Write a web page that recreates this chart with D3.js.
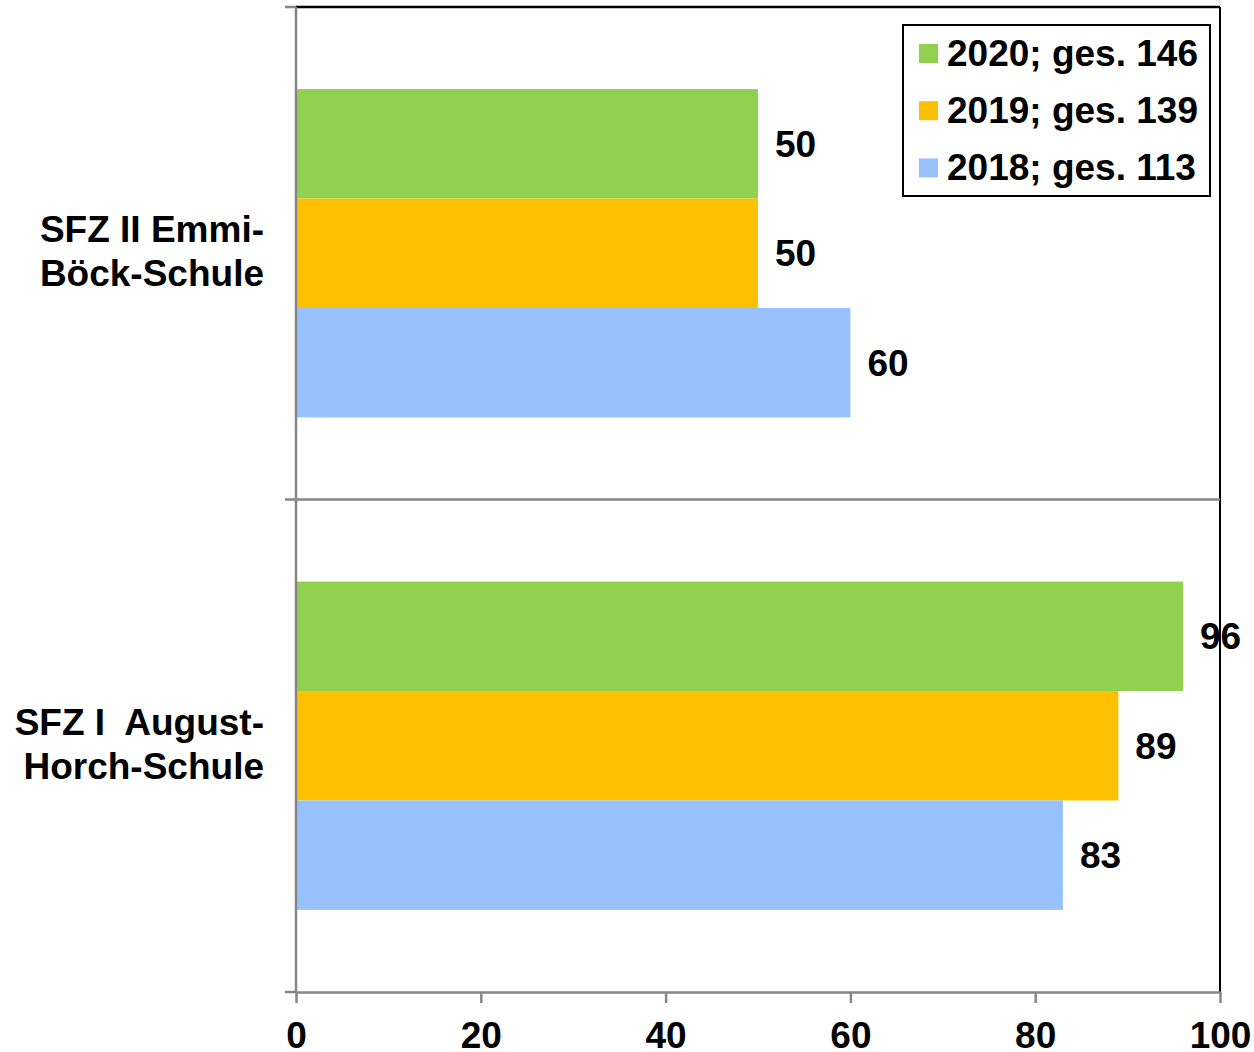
<!DOCTYPE html>
<html lang="de">
<head>
    <meta charset="UTF-8">
    <title>SFZ Schülerzahlen</title>
    <script src="https://d3js.org/d3.v7.min.js"></script>
    <style>
        body { margin: 0; background: #fff; }
        text { font-family: "Liberation Sans", Arial, sans-serif; font-weight: bold; fill: #000; white-space: pre; }
    </style>
</head>
<body>
    <div id="chart"></div>

    <script>
        // Data
        var categories = ["SFZ II Emmi-Böck-Schule", "SFZ I  August-Horch-Schule"];
        var categoryLines = [["SFZ II Emmi-", "Böck-Schule"], ["SFZ I  August-", "Horch-Schule"]];
        var seriesNames = ["2020; ges. 146", "2019; ges. 139", "2018; ges. 113"];
        var values2020 = [50, 96];
        var values2019 = [50, 89];
        var values2018 = [60, 83];
        var xTicks = [0, 20, 40, 60, 80, 100];

        var seriesValues = [values2020, values2019, values2018];
        var colors = ["#92D050", "#FFC000", "#97C2FF"];

        var width = 1254, height = 1052;
        var plotLeft = 296, plotRight = 1220, plotTop = 7, plotBottom = 992;

        var svg = d3.select("#chart")
            .append("svg")
            .attr("width", width)
            .attr("height", height);

        // scales
        var x = d3.scaleLinear().domain([0, 100]).range([plotLeft, plotRight]);

        var y0 = d3.scaleBand()
            .domain(categories)
            .range([plotTop, plotBottom])
            .paddingInner(1 / 3)
            .paddingOuter(1 / 6);

        var y1 = d3.scaleBand()
            .domain(seriesNames)
            .range([0, y0.bandwidth()]);

        // bars
        var groups = svg.selectAll("g.group")
            .data(categories)
            .enter()
            .append("g")
            .attr("class", "group")
            .attr("transform", function(d) { return "translate(0," + y0(d) + ")"; });

        groups.selectAll("rect")
            .data(function(d, i) {
                return seriesNames.map(function(s, j) { return {s: s, v: seriesValues[j][i], c: colors[j]}; });
            })
            .enter()
            .append("rect")
            .attr("x", x(0))
            .attr("y", function(d) { return y1(d.s); })
            .attr("width", function(d) { return x(d.v) - x(0); })
            .attr("height", y1.bandwidth())
            .attr("fill", function(d) { return d.c; });

        // value labels
        groups.selectAll("text.val")
            .data(function(d, i) {
                return seriesNames.map(function(s, j) { return {s: s, v: seriesValues[j][i]}; });
            })
            .enter()
            .append("text")
            .attr("class", "val")
            .attr("x", function(d) { return x(d.v) + 17; })
            .attr("y", function(d) { return y1(d.s) + y1.bandwidth() / 2 + 13; })
            .style("font-size", "37px")
            .text(function(d) { return d.v; });

        // frame: top and right in black
        svg.append("line")
            .attr("x1", plotLeft).attr("x2", plotRight)
            .attr("y1", plotTop).attr("y2", plotTop)
            .attr("stroke", "#000").attr("stroke-width", 2.5);
        svg.append("line")
            .attr("x1", plotRight).attr("x2", plotRight)
            .attr("y1", plotTop).attr("y2", plotBottom)
            .attr("stroke", "#000").attr("stroke-width", 2);

        // category separators + left ticks
        var step = y0.step();
        var boundaries = d3.range(categories.length + 1).map(function(i) { return plotTop + i * step; });
        svg.selectAll("line.sep")
            .data(boundaries)
            .enter()
            .append("line")
            .attr("class", "sep")
            .attr("x1", plotLeft - 11)
            .attr("x2", function(d, i) { return (i == 0 || i == boundaries.length - 1) ? plotLeft : plotRight; })
            .attr("y1", function(d) { return d; })
            .attr("y2", function(d) { return d; })
            .attr("stroke", "#868686")
            .attr("stroke-width", 2.5);

        // left axis line
        svg.append("line")
            .attr("x1", plotLeft).attr("x2", plotLeft)
            .attr("y1", plotTop).attr("y2", plotBottom)
            .attr("stroke", "#868686").attr("stroke-width", 2.5);

        // x axis
        var xAxis = svg.append("g")
            .attr("transform", "translate(0," + plotBottom + ")")
            .call(d3.axisBottom(x).tickValues(xTicks).tickSize(11).tickSizeOuter(0).tickPadding(0));
        xAxis.select(".domain").attr("stroke", "#868686").attr("stroke-width", 2.5);
        xAxis.selectAll(".tick line").attr("stroke", "#868686").attr("stroke-width", 2.5);
        xAxis.selectAll(".tick text")
            .attr("fill", "#000")
            .attr("y", 56)
            .attr("dy", null)
            .style("font-size", "37px")
            .style("font-family", "'Liberation Sans', Arial, sans-serif")
            .style("font-weight", "bold");

        // category labels
        categories.forEach(function(c, i) {
            var cy = y0(c) + y0.bandwidth() / 2;
            var t = svg.append("text")
                .attr("text-anchor", "end")
                .style("font-size", "37px");
            categoryLines[i].forEach(function(line, k) {
                t.append("tspan")
                    .attr("x", 264)
                    .attr("y", cy - 11 + k * 44)
                    .text(line);
            });
        });

        // legend
        var legend = svg.append("g");
        legend.append("rect")
            .attr("x", 903).attr("y", 25)
            .attr("width", 307).attr("height", 171)
            .attr("fill", "#fff")
            .attr("stroke", "#000")
            .attr("stroke-width", 2);

        seriesNames.forEach(function(s, j) {
            var rowY = 53.5 + j * 57.2;
            legend.append("rect")
                .attr("x", 919).attr("y", rowY - 9.5)
                .attr("width", 19).attr("height", 19)
                .attr("fill", colors[j]);
            legend.append("text")
                .attr("x", 947).attr("y", rowY + 12)
                .style("font-size", "37px")
                .text(s);
        });
    </script>
</body>
</html>
